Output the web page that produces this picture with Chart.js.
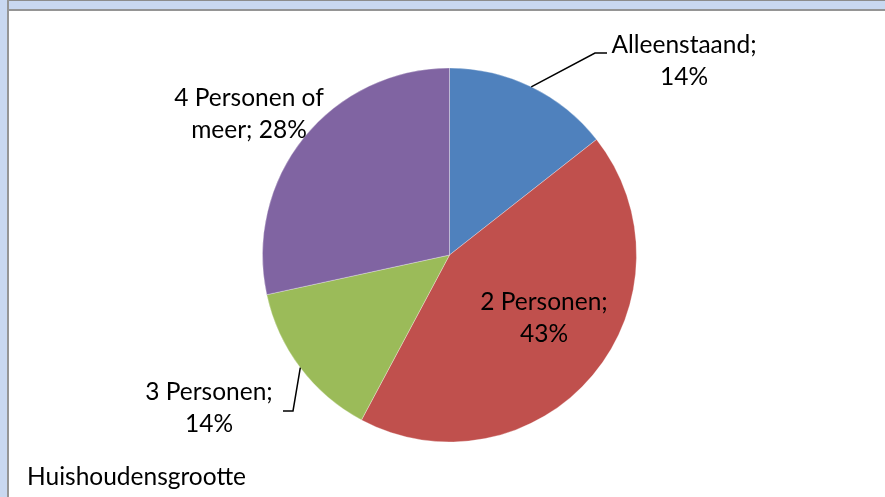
<!DOCTYPE html>
<html lang="nl">
<head>
  <meta charset="UTF-8">
  <title>Huishoudensgrootte</title>
  <script src="https://cdn.jsdelivr.net/npm/chart.js"></script>
  <style>
    html, body { margin: 0; padding: 0; background: #fff; }
    body { width: 885px; height: 497px; position: relative; overflow: hidden; font-family: Lato, sans-serif; }
    .band-top { position: absolute; left: 0; top: 0; width: 885px; height: 11px; background: #c9d8f0; border-top: 1px solid #8c8c8c; border-bottom: 2px solid #959595; box-sizing: border-box; }
    .band-left { position: absolute; left: 0; top: 0; width: 9px; height: 497px; background: #c9d8f0; border-right: 2px solid #959595; box-sizing: border-box; }
    #chart { position: absolute; left: 0; top: 0; }
  </style>
</head>
<body>
  <div class="band-top"></div>
  <div class="band-left"></div>
  <canvas id="chart" width="885" height="497"></canvas>

  <script>
    // data
    const categories = ['Alleenstaand', '2 Personen', '3 Personen', '4 Personen of meer'];
    const shares = [14.4, 43.4, 13.8, 28.4];
    const colors = ['#4f81bd', '#c0504d', '#9bbb59', '#8064a2'];
    const title = 'Huishoudensgrootte';

    // where Excel put the data labels (centre x, first baseline, wrap width, optional leader line)
    const labelLayout = [
      { x: 684, y: 53, wrap: 170, elbow: [595, 53], end: 607 },
      { x: 544, y: 310, wrap: 145 },
      { x: 209, y: 400, wrap: 145, elbow: [293, 411], end: 283 },
      { x: 249, y: 106, wrap: 195 }
    ];
    const lineGap = 32;
    const labelFont = '24.5px Lato, sans-serif';

    function wrapText(ctx, text, maxWidth) {
      const words = text.split(' ');
      const lines = [];
      let cur = '';
      words.forEach(w => {
        const test = cur ? cur + ' ' + w : w;
        if (cur && ctx.measureText(test).width > maxWidth) {
          lines.push(cur);
          cur = w;
        } else {
          cur = test;
        }
      });
      if (cur) lines.push(cur);
      return lines;
    }

    const labelPlugin = {
      id: 'excelLabels',
      afterDatasetsDraw(chart) {
        const ctx = chart.ctx;
        const meta = chart.getDatasetMeta(0);
        const data = chart.data.datasets[0].data;
        const total = data.reduce((a, b) => a + b, 0);
        ctx.save();
        ctx.font = labelFont;
        ctx.fillStyle = '#000';
        ctx.textAlign = 'center';
        ctx.textBaseline = 'alphabetic';
        meta.data.forEach((arc, i) => {
          const lay = labelLayout[i];
          const p = arc.getProps(['x', 'y', 'startAngle', 'endAngle', 'outerRadius'], true);
          const pct = Math.round(data[i] / total * 100) + '%';
          const lines = wrapText(ctx, chart.data.labels[i] + '; ' + pct, lay.wrap);
          lines.forEach((ln, k) => ctx.fillText(ln, lay.x, lay.y + k * lineGap));

          if (lay.elbow) {
            const mid = (p.startAngle + p.endAngle) / 2;
            const sx = p.x + Math.cos(mid) * p.outerRadius;
            const sy = p.y + Math.sin(mid) * p.outerRadius;
            ctx.beginPath();
            ctx.strokeStyle = '#000';
            ctx.lineWidth = 1.5;
            ctx.moveTo(sx, sy);
            ctx.lineTo(lay.elbow[0], lay.elbow[1]);
            ctx.lineTo(lay.end, lay.elbow[1]);
            ctx.stroke();
          }
        });

        ctx.textAlign = 'left';
        ctx.fillText(title, 27, 485);
        ctx.restore();
      }
    };

    new Chart(document.getElementById('chart'), {
      type: 'pie',
      data: {
        labels: categories,
        datasets: [{
          data: shares,
          backgroundColor: colors,
          borderColor: 'rgba(255,255,255,0.3)',
          borderWidth: 1,
          hoverOffset: 0
        }]
      },
      options: {
        responsive: false,
        animation: false,
        radius: 187,
        layout: { padding: { left: 262, right: 248, top: 68, bottom: 55 } },
        plugins: {
          legend: { display: false },
          tooltip: { enabled: false },
          title: { display: false }
        }
      },
      plugins: [labelPlugin]
    });
  </script>
</body>
</html>
